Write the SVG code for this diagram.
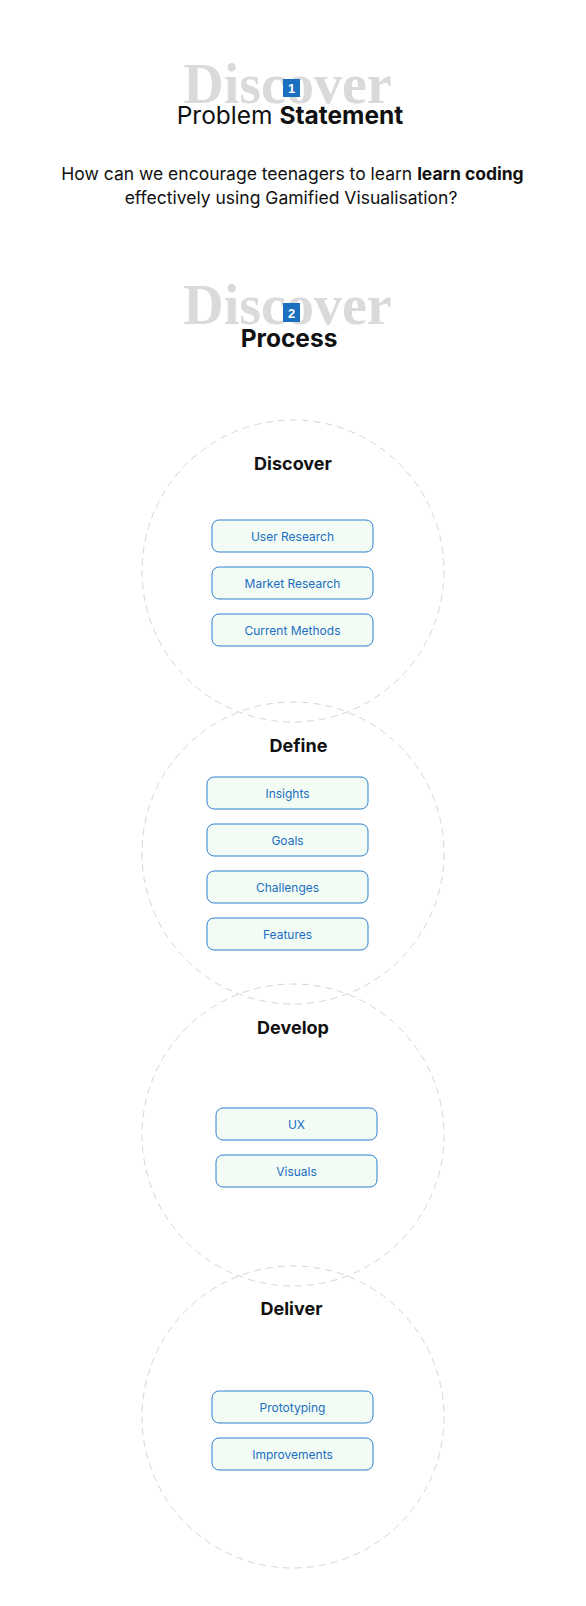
<svg xmlns="http://www.w3.org/2000/svg" width="586" height="1606" viewBox="0 0 586 1606">
<style>
.bg{font-family:"Liberation Serif",serif;font-weight:bold;font-size:56px;fill:#dadada;text-anchor:middle}
.badge{fill:#1a6fc0}
.num{font-family:"Liberation Sans",sans-serif;font-weight:bold;font-size:13px;fill:#fff;text-anchor:middle}
.h{font-family:Inter,"Liberation Sans",sans-serif;font-size:24.5px;fill:#111;text-anchor:middle}
.q{font-family:Inter,"Liberation Sans",sans-serif;font-size:17.5px;fill:#111;text-anchor:middle}
.ring{fill:none;stroke:#d6d6d6;stroke-width:1;stroke-dasharray:7 5}
.title{font-family:Inter,"Liberation Sans",sans-serif;font-weight:bold;font-size:18px;fill:#111;text-anchor:middle}
.box{fill:#f2fcf4;stroke:#2f80cf;stroke-width:1}
.lbl{font-family:Inter,"Liberation Sans",sans-serif;font-size:12px;fill:#1b6ec2;text-anchor:middle}
</style>
<rect width="586" height="1606" fill="#fff"/>
<g id="header1">
<text class="bg" x="287.5" y="103">Discover</text>
<rect class="badge" x="283" y="79" width="17" height="18"/>
<text class="num" x="291.5" y="93">1</text>
<text class="h" x="290" y="124">Problem <tspan font-weight="bold">Statement</tspan></text>
</g>
<g id="question">
<text class="q" x="292.5" y="180">How can we encourage teenagers to learn <tspan font-weight="bold">learn coding</tspan></text>
<text class="q" x="291" y="204">effectively using Gamified Visualisation?</text>
</g>
<g id="header2">
<text class="bg" x="287.5" y="324">Discover</text>
<rect class="badge" x="283" y="303" width="17" height="19"/>
<text class="num" x="291.5" y="317.5">2</text>
<text class="h" x="289" y="347" font-weight="bold">Process</text>
</g>
<g id="rings">
<circle class="ring" cx="293" cy="571" r="151"/>
<circle class="ring" cx="293" cy="853" r="151"/>
<circle class="ring" cx="293" cy="1135" r="151"/>
<circle class="ring" cx="293" cy="1417" r="151"/>
</g>
<g id="discover">
<text class="title" x="293" y="470">Discover</text>
<g id="user-research"><rect class="box" x="212" y="520" width="161" height="32" rx="7"/><text class="lbl" x="292.5" y="540.5">User Research</text></g>
<g id="market-research"><rect class="box" x="212" y="567" width="161" height="32" rx="7"/><text class="lbl" x="292.5" y="587.5">Market Research</text></g>
<g id="current-methods"><rect class="box" x="212" y="614" width="161" height="32" rx="7"/><text class="lbl" x="292.5" y="634.5">Current Methods</text></g>
</g>
<g id="define">
<text class="title" x="298.5" y="752">Define</text>
<g id="insights"><rect class="box" x="207" y="777" width="161" height="32" rx="7"/><text class="lbl" x="287.5" y="797.5">Insights</text></g>
<g id="goals"><rect class="box" x="207" y="824" width="161" height="32" rx="7"/><text class="lbl" x="287.5" y="844.5">Goals</text></g>
<g id="challenges"><rect class="box" x="207" y="871" width="161" height="32" rx="7"/><text class="lbl" x="287.5" y="891.5">Challenges</text></g>
<g id="features"><rect class="box" x="207" y="918" width="161" height="32" rx="7"/><text class="lbl" x="287.5" y="938.5">Features</text></g>
</g>
<g id="develop">
<text class="title" x="293" y="1034">Develop</text>
<g id="ux"><rect class="box" x="216" y="1108" width="161" height="32" rx="7"/><text class="lbl" x="296.5" y="1128.5">UX</text></g>
<g id="visuals"><rect class="box" x="216" y="1155" width="161" height="32" rx="7"/><text class="lbl" x="296.5" y="1175.5">Visuals</text></g>
</g>
<g id="deliver">
<text class="title" x="291.5" y="1315">Deliver</text>
<g id="prototyping"><rect class="box" x="212" y="1391" width="161" height="32" rx="7"/><text class="lbl" x="292.5" y="1411.5">Prototyping</text></g>
<g id="improvements"><rect class="box" x="212" y="1438" width="161" height="32" rx="7"/><text class="lbl" x="292.5" y="1458.5">Improvements</text></g>
</g>
<g id="connectors"/>
</svg>
